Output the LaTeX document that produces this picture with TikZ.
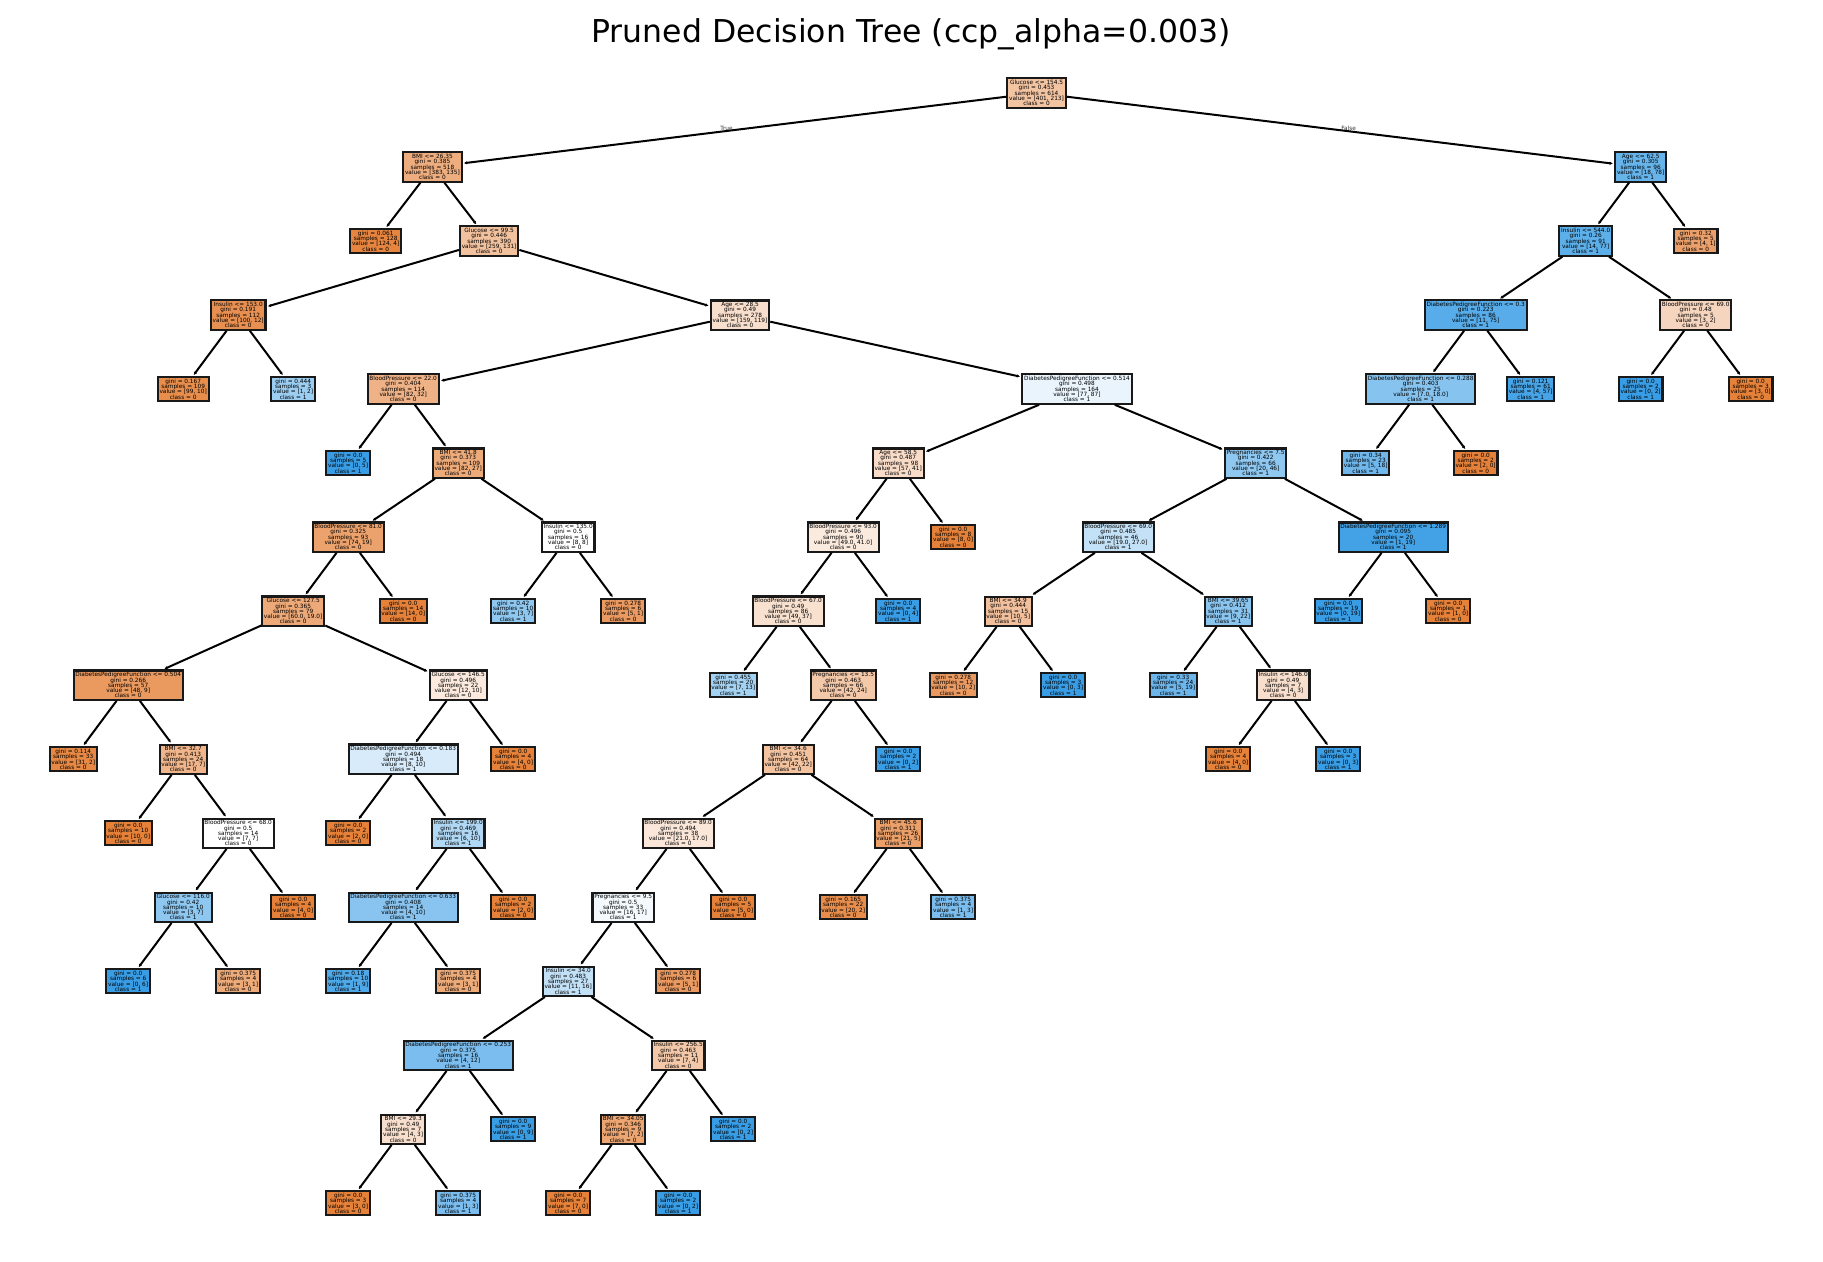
\documentclass[tikz,border=0pt]{standalone}
\usepackage{fontspec}
\setmainfont{DejaVu Sans}
\usetikzlibrary{arrows.meta,calc}
\definecolor{co}{RGB}{229,129,57}
\definecolor{cb}{RGB}{57,157,229}
\newcommand\treefont{\fontsize{5.8}{5.3}\selectfont\lineskiplimit=-20pt\lineskip=0pt}
\newcommand\tn[6]{\node[box={#4}{#5}] (#1) at (#2,#3) {#6};}
\tikzset{
  box/.style 2 args={draw=black!90, line width=2.1pt, fill=#1!#2!white,
    inner sep=1.8pt, align=center, font=\treefont, text=black},
  edge/.style={line width=2pt, draw=black, -{Latex[length=3.2pt,width=3.4pt]}, shorten >=1.2pt},
  lbl/.style={font=\treefont, text=black!80, inner sep=0pt, yshift=1.5pt},
}
\begin{document}
\begin{tikzpicture}[x=55pt,y=-74.02pt]
\useasboundingbox[fill=white] (-1.33091,-1.25642) rectangle (31.8145,15.7795);
\node[font=\fontsize{31.5}{37}\selectfont] (title) at (15.233,-0.80) {Pruned Decision Tree (ccp\_alpha=0.003)};
% level 0-3
\tn{n0}{17.515625}{0}{co}{47}{Glucose <= 154.5\\gini = 0.453\\samples = 614\\value = [401, 213]\\class = 0}
\tn{a}{6.53125}{1}{co}{65}{BMI <= 26.35\\gini = 0.385\\samples = 518\\value = [383, 135]\\class = 0}
\tn{b}{28.5}{1}{cb}{77}{Age <= 62.5\\gini = 0.305\\samples = 96\\value = [18, 78]\\class = 1}
\tn{aa}{5.5}{2}{co}{97}{gini = 0.061\\samples = 128\\value = [124, 4]\\class = 0}
\tn{ab}{7.5625}{2}{co}{49}{Glucose <= 99.5\\gini = 0.446\\samples = 390\\value = [259, 131]\\class = 0}
\tn{ba}{27.5}{2}{cb}{82}{Insulin <= 544.0\\gini = 0.26\\samples = 91\\value = [14, 77]\\class = 1}
\tn{bb}{29.5}{2}{co}{75}{gini = 0.32\\samples = 5\\value = [4, 1]\\class = 0}
\tn{aba}{3}{3}{co}{88}{Insulin <= 153.0\\gini = 0.191\\samples = 112\\value = [100, 12]\\class = 0}
\tn{abb}{12.125}{3}{co}{25}{Age <= 28.5\\gini = 0.49\\samples = 278\\value = [159, 119]\\class = 0}
\tn{baa}{25.5}{3}{cb}{85}{DiabetesPedigreeFunction <= 0.3\\gini = 0.223\\samples = 86\\value = [11, 75]\\class = 1}
\tn{bab}{29.5}{3}{co}{33}{BloodPressure <= 69.0\\gini = 0.48\\samples = 5\\value = [3, 2]\\class = 0}
% level 4
\tn{abaa}{2}{4}{co}{90}{gini = 0.167\\samples = 109\\value = [99, 10]\\class = 0}
\tn{abab}{4}{4}{cb}{50}{gini = 0.444\\samples = 3\\value = [1, 2]\\class = 1}
\tn{abba}{6}{4}{co}{61}{BloodPressure <= 22.0\\gini = 0.404\\samples = 114\\value = [82, 32]\\class = 0}
\tn{abbb}{18.25}{4}{cb}{11}{DiabetesPedigreeFunction <= 0.514\\gini = 0.498\\samples = 164\\value = [77, 87]\\class = 1}
\tn{baaa}{24.5}{4}{cb}{61}{DiabetesPedigreeFunction <= 0.288\\gini = 0.403\\samples = 25\\value = [7.0, 18.0]\\class = 1}
\tn{baab}{26.5}{4}{cb}{93}{gini = 0.121\\samples = 61\\value = [4, 57]\\class = 1}
\tn{baba}{28.5}{4}{cb}{100}{gini = 0.0\\samples = 2\\value = [0, 2]\\class = 1}
\tn{babb}{30.5}{4}{co}{100}{gini = 0.0\\samples = 3\\value = [3, 0]\\class = 0}
% level 5
\tn{abbaa}{5}{5}{cb}{100}{gini = 0.0\\samples = 5\\value = [0, 5]\\class = 1}
\tn{abbab}{7}{5}{co}{67}{BMI <= 41.8\\gini = 0.373\\samples = 109\\value = [82, 27]\\class = 0}
\tn{abbba}{15}{5}{co}{28}{Age <= 58.5\\gini = 0.487\\samples = 98\\value = [57, 41]\\class = 0}
\tn{abbbb}{21.5}{5}{cb}{57}{Pregnancies <= 7.5\\gini = 0.422\\samples = 66\\value = [20, 46]\\class = 1}
\tn{baaaa}{23.5}{5}{cb}{72}{gini = 0.34\\samples = 23\\value = [5, 18]\\class = 1}
\tn{baaab}{25.5}{5}{co}{100}{gini = 0.0\\samples = 2\\value = [2, 0]\\class = 0}
% level 6
\tn{c1}{5}{6}{co}{74}{BloodPressure <= 81.0\\gini = 0.325\\samples = 93\\value = [74, 19]\\class = 0}
\tn{c2}{9}{6}{co}{0}{Insulin <= 135.0\\gini = 0.5\\samples = 16\\value = [8, 8]\\class = 0}
\tn{c3}{14}{6}{co}{16}{BloodPressure <= 93.0\\gini = 0.496\\samples = 90\\value = [49.0, 41.0]\\class = 0}
\tn{c4}{16}{6}{co}{100}{gini = 0.0\\samples = 8\\value = [8, 0]\\class = 0}
\tn{c5}{19}{6}{cb}{30}{BloodPressure <= 69.0\\gini = 0.485\\samples = 46\\value = [19.0, 27.0]\\class = 1}
\tn{c6}{24}{6}{cb}{95}{DiabetesPedigreeFunction <= 1.289\\gini = 0.095\\samples = 20\\value = [1, 19]\\class = 1}
% level 7
\tn{d1}{4}{7}{co}{68}{Glucose <= 127.5\\gini = 0.365\\samples = 79\\value = [60.0, 19.0]\\class = 0}
\tn{d2}{6}{7}{co}{100}{gini = 0.0\\samples = 14\\value = [14, 0]\\class = 0}
\tn{d3}{8}{7}{cb}{57}{gini = 0.42\\samples = 10\\value = [3, 7]\\class = 1}
\tn{d4}{10}{7}{co}{80}{gini = 0.278\\samples = 6\\value = [5, 1]\\class = 0}
\tn{d5}{13}{7}{co}{24}{BloodPressure <= 67.0\\gini = 0.49\\samples = 86\\value = [49, 37]\\class = 0}
\tn{d6}{15}{7}{cb}{100}{gini = 0.0\\samples = 4\\value = [0, 4]\\class = 1}
\tn{d7}{17}{7}{co}{50}{BMI <= 34.9\\gini = 0.444\\samples = 15\\value = [10, 5]\\class = 0}
\tn{d8}{21}{7}{cb}{59}{BMI <= 39.65\\gini = 0.412\\samples = 31\\value = [9, 22]\\class = 1}
\tn{d9}{23}{7}{cb}{100}{gini = 0.0\\samples = 19\\value = [0, 19]\\class = 1}
\tn{d10}{25}{7}{co}{100}{gini = 0.0\\samples = 1\\value = [1, 0]\\class = 0}
% level 8
\tn{e1}{1}{8}{co}{81}{DiabetesPedigreeFunction <= 0.504\\gini = 0.266\\samples = 57\\value = [48, 9]\\class = 0}
\tn{e2}{7}{8}{co}{17}{Glucose <= 146.5\\gini = 0.496\\samples = 22\\value = [12, 10]\\class = 0}
\tn{e3}{12}{8}{cb}{46}{gini = 0.455\\samples = 20\\value = [7, 13]\\class = 1}
\tn{e4}{14}{8}{co}{43}{Pregnancies <= 13.5\\gini = 0.463\\samples = 66\\value = [42, 24]\\class = 0}
\tn{e5}{16}{8}{co}{80}{gini = 0.278\\samples = 12\\value = [10, 2]\\class = 0}
\tn{e6}{18}{8}{cb}{100}{gini = 0.0\\samples = 3\\value = [0, 3]\\class = 1}
\tn{e7}{20}{8}{cb}{74}{gini = 0.33\\samples = 24\\value = [5, 19]\\class = 1}
\tn{e8}{22}{8}{co}{25}{Insulin <= 146.0\\gini = 0.49\\samples = 7\\value = [4, 3]\\class = 0}
% level 9
\tn{f1}{0}{9}{co}{94}{gini = 0.114\\samples = 33\\value = [31, 2]\\class = 0}
\tn{f2}{2}{9}{co}{59}{BMI <= 32.7\\gini = 0.413\\samples = 24\\value = [17, 7]\\class = 0}
\tn{f3}{6}{9}{cb}{20}{DiabetesPedigreeFunction <= 0.183\\gini = 0.494\\samples = 18\\value = [8, 10]\\class = 1}
\tn{f4}{8}{9}{co}{100}{gini = 0.0\\samples = 4\\value = [4, 0]\\class = 0}
\tn{f5}{13}{9}{co}{48}{BMI <= 34.6\\gini = 0.451\\samples = 64\\value = [42, 22]\\class = 0}
\tn{f6}{15}{9}{cb}{100}{gini = 0.0\\samples = 2\\value = [0, 2]\\class = 1}
\tn{f7}{21}{9}{co}{100}{gini = 0.0\\samples = 4\\value = [4, 0]\\class = 0}
\tn{f8}{23}{9}{cb}{100}{gini = 0.0\\samples = 3\\value = [0, 3]\\class = 1}
% level 10
\tn{g1}{1}{10}{co}{100}{gini = 0.0\\samples = 10\\value = [10, 0]\\class = 0}
\tn{g2}{3}{10}{co}{0}{BloodPressure <= 68.0\\gini = 0.5\\samples = 14\\value = [7, 7]\\class = 0}
\tn{g3}{5}{10}{co}{100}{gini = 0.0\\samples = 2\\value = [2, 0]\\class = 0}
\tn{g4}{7}{10}{cb}{40}{Insulin <= 199.0\\gini = 0.469\\samples = 16\\value = [6, 10]\\class = 1}
\tn{g5}{11}{10}{co}{19}{BloodPressure <= 89.0\\gini = 0.494\\samples = 38\\value = [21.0, 17.0]\\class = 0}
\tn{g6}{15}{10}{co}{76}{BMI <= 45.6\\gini = 0.311\\samples = 26\\value = [21, 5]\\class = 0}
% level 11
\tn{h1}{2}{11}{cb}{57}{Glucose <= 116.0\\gini = 0.42\\samples = 10\\value = [3, 7]\\class = 1}
\tn{h2}{4}{11}{co}{100}{gini = 0.0\\samples = 4\\value = [4, 0]\\class = 0}
\tn{h3}{6}{11}{cb}{60}{DiabetesPedigreeFunction <= 0.633\\gini = 0.408\\samples = 14\\value = [4, 10]\\class = 1}
\tn{h4}{8}{11}{co}{100}{gini = 0.0\\samples = 2\\value = [2, 0]\\class = 0}
\tn{h5}{10}{11}{cb}{6}{Pregnancies <= 9.5\\gini = 0.5\\samples = 33\\value = [16, 17]\\class = 1}
\tn{h6}{12}{11}{co}{100}{gini = 0.0\\samples = 5\\value = [5, 0]\\class = 0}
\tn{h7}{14}{11}{co}{90}{gini = 0.165\\samples = 22\\value = [20, 2]\\class = 0}
\tn{h8}{16}{11}{cb}{67}{gini = 0.375\\samples = 4\\value = [1, 3]\\class = 1}
% level 12
\tn{i1}{1}{12}{cb}{100}{gini = 0.0\\samples = 6\\value = [0, 6]\\class = 1}
\tn{i2}{3}{12}{co}{67}{gini = 0.375\\samples = 4\\value = [3, 1]\\class = 0}
\tn{i3}{5}{12}{cb}{89}{gini = 0.18\\samples = 10\\value = [1, 9]\\class = 1}
\tn{i4}{7}{12}{co}{67}{gini = 0.375\\samples = 4\\value = [3, 1]\\class = 0}
\tn{i5}{9}{12}{cb}{31}{Insulin <= 34.0\\gini = 0.483\\samples = 27\\value = [11, 16]\\class = 1}
\tn{i6}{11}{12}{co}{80}{gini = 0.278\\samples = 6\\value = [5, 1]\\class = 0}
% level 13
\tn{j1}{7}{13}{cb}{67}{DiabetesPedigreeFunction <= 0.253\\gini = 0.375\\samples = 16\\value = [4, 12]\\class = 1}
\tn{j2}{11}{13}{co}{43}{Insulin <= 256.5\\gini = 0.463\\samples = 11\\value = [7, 4]\\class = 0}
% level 14
\tn{k1}{6}{14}{co}{25}{BMI <= 29.3\\gini = 0.49\\samples = 7\\value = [4, 3]\\class = 0}
\tn{k2}{8}{14}{cb}{100}{gini = 0.0\\samples = 9\\value = [0, 9]\\class = 1}
\tn{k3}{10}{14}{co}{71}{BMI <= 34.05\\gini = 0.346\\samples = 9\\value = [7, 2]\\class = 0}
\tn{k4}{12}{14}{cb}{100}{gini = 0.0\\samples = 2\\value = [0, 2]\\class = 1}
% level 15
\tn{l1}{5}{15}{co}{100}{gini = 0.0\\samples = 3\\value = [3, 0]\\class = 0}
\tn{l2}{7}{15}{cb}{67}{gini = 0.375\\samples = 4\\value = [1, 3]\\class = 1}
\tn{l3}{9}{15}{co}{100}{gini = 0.0\\samples = 7\\value = [7, 0]\\class = 0}
\tn{l4}{11}{15}{cb}{100}{gini = 0.0\\samples = 2\\value = [0, 2]\\class = 1}
% edges
\foreach \p/\c in {n0/a,n0/b,a/aa,a/ab,b/ba,b/bb,ab/aba,ab/abb,ba/baa,ba/bab,
  aba/abaa,aba/abab,abb/abba,abb/abbb,baa/baaa,baa/baab,bab/baba,bab/babb,
  abba/abbaa,abba/abbab,abbb/abbba,abbb/abbbb,baaa/baaaa,baaa/baaab,
  abbab/c1,abbab/c2,abbba/c3,abbba/c4,abbbb/c5,abbbb/c6,
  c1/d1,c1/d2,c2/d3,c2/d4,c3/d5,c3/d6,c5/d7,c5/d8,c6/d9,c6/d10,
  d1/e1,d1/e2,d5/e3,d5/e4,d7/e5,d7/e6,d8/e7,d8/e8,
  e1/f1,e1/f2,e2/f3,e2/f4,e4/f5,e4/f6,e8/f7,e8/f8,
  f2/g1,f2/g2,f3/g3,f3/g4,f5/g5,f5/g6,
  g2/h1,g2/h2,g4/h3,g4/h4,g5/h5,g5/h6,g6/h7,g6/h8,
  h1/i1,h1/i2,h3/i3,h3/i4,h5/i5,h5/i6,
  i5/j1,i5/j2,j1/k1,j1/k2,j2/k3,j2/k4,k1/l1,k1/l2,k3/l3,k3/l4}
  {\draw[edge] (\p) -- (\c);}
\node[lbl, xshift=-8pt] (tlab) at ($(n0)!0.5!(a)$) {True};
\node[lbl, xshift=10pt] (flab) at ($(n0)!0.5!(b)$) {False};
\end{tikzpicture}
\end{document}
